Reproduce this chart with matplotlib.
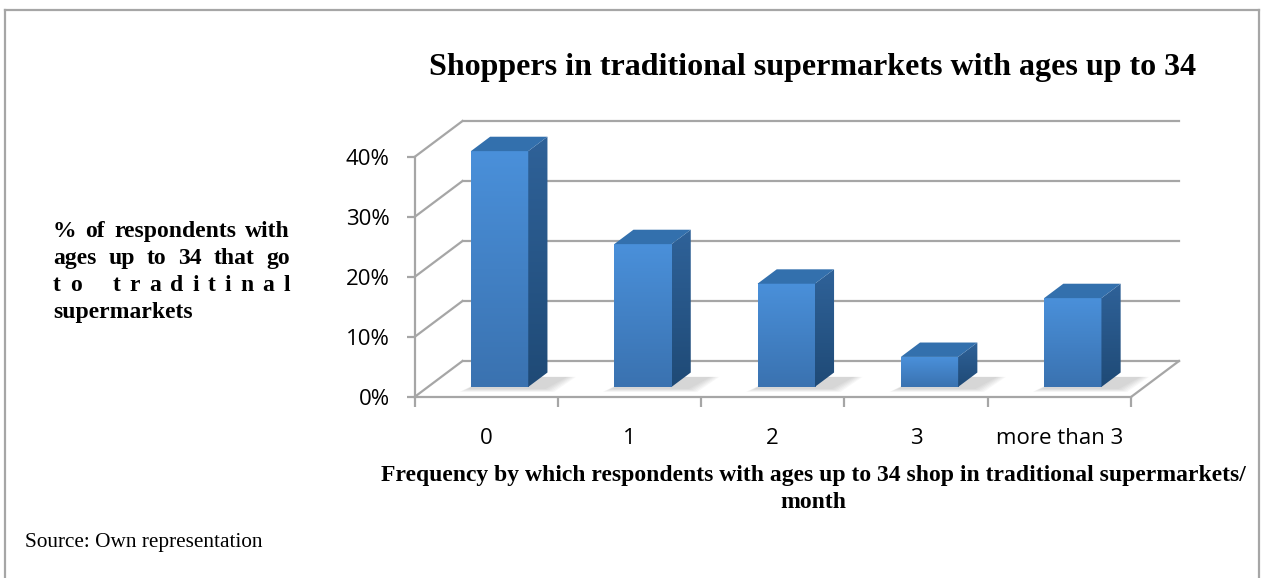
import numpy as np
import matplotlib.pyplot as plt
from matplotlib.patches import Polygon
from matplotlib.lines import Line2D
from matplotlib.colors import LinearSegmentedColormap

categories = ['0', '1', '2', '3', 'more than 3']
shares = [39.3, 23.8, 17.2, 5.0, 14.8]
y_ticks = [0, 10, 20, 30, 40]
y_tick_labels = ['0%', '10%', '20%', '30%', '40%']

title = 'Shoppers in traditional supermarkets with ages up to 34'
x_title = ['Frequency by which respondents with ages up to 34 shop in traditional supermarkets/',
           'month']
y_title = [['%', 'of', 'respondents', 'with'],
           ['ages', 'up', 'to', '34', 'that', 'go'],
           ['t', 'o', ' ', 't', 'r', 'a', 'd', 'i', 't', 'i', 'n', 'a', 'l'],
           ['supermarkets']]
source = 'Source: Own representation'

W, H = 1268, 578
DX, DY = 0.335, 6.0          # depth of the 3d box in data units
FRONT, DEPTH, WIDTH = 0.28, 0.40, 0.40
GRID = '#a6a6a6'
SERIF = 'Liberation Serif'
SANS = 'Open Sans'

fig = plt.figure(figsize=(W / 100, H / 100), dpi=100)
n = len(categories)
ax = fig.add_axes([414.5 / W, (H - 397) / H, (1179 - 414.5) / W, 276 / H])

# walls and floor
for v in y_ticks:
    ax.plot([-0.5, -0.5 + DX], [v, v + DY], color=GRID, lw=1.6, zorder=1, clip_on=False)
    ax.plot([-0.5 + DX, n - 0.5 + DX], [v + DY, v + DY], color=GRID, lw=1.6, zorder=1, clip_on=False)
ax.plot([n - 0.5, n - 0.5 + DX], [0, DY], color=GRID, lw=1.6, zorder=1, clip_on=False)

# bars
front_cmap = LinearSegmentedColormap.from_list('front', ['#3a72b0', '#4a90da'])
side_cmap = LinearSegmentedColormap.from_list('side', ['#1f4a76', '#2f6299'])
grad = np.linspace(0, 1, 256).reshape(-1, 1)
fx, fy = FRONT * DX, FRONT * DY
sx, sy = DEPTH * DX, DEPTH * DY

for i, v in enumerate(shares):
    x0 = i - WIDTH / 2 + fx
    x1 = x0 + WIDTH
    y0 = fy
    y1 = fy + v

    # soft shadow on the floor
    for k in range(6):
        e = 0.012 * k
        shadow = Polygon([(x0 - 0.02 - e, y0 - 0.35 - e * 8),
                          (x1 + 0.12 + e, y0 - 0.35 - e * 8),
                          (x1 + sx + 0.14 + e, y0 + sy * 0.7),
                          (x0 + sx, y0 + sy * 0.7)],
                         closed=True, fc='#808080', ec='none', alpha=0.06, zorder=2)
        ax.add_patch(shadow)

    ax.imshow(grad, extent=(x0, x1, y0, y1), origin='lower', cmap=front_cmap,
              aspect='auto', zorder=3, interpolation='bilinear')

    side = Polygon([(x1, y0), (x1 + sx, y0 + sy), (x1 + sx, y1 + sy), (x1, y1)],
                   closed=True, fc='none', ec='none')
    ax.add_patch(side)
    im = ax.imshow(grad, extent=(x1, x1 + sx, y0, y1 + sy), origin='lower', cmap=side_cmap,
                   aspect='auto', zorder=3, interpolation='bilinear')
    im.set_clip_path(side)

    top = Polygon([(x0, y1), (x1, y1), (x1 + sx, y1 + sy), (x0 + sx, y1 + sy)],
                  closed=True, fc='#3370ad', ec='none', zorder=3)
    ax.add_patch(top)

ax.set_xlim(-0.5, n - 0.5 + DX)
ax.set_ylim(0, y_ticks[-1] + DY)
ax.patch.set_visible(False)

# axes lines, ticks and labels
for s in ['top', 'right']:
    ax.spines[s].set_visible(False)
for s in ['left', 'bottom']:
    ax.spines[s].set_color(GRID)
    ax.spines[s].set_linewidth(1.6)
    ax.spines[s].set_zorder(1)
ax.spines['left'].set_bounds(0, y_ticks[-1])
ax.spines['bottom'].set_bounds(-0.5, n - 0.5)

ax.set_yticks(y_ticks)
ax.set_yticklabels(y_tick_labels, fontfamily=SANS, fontsize=16)
ax.tick_params(axis='y', direction='out', length=6, width=1.6, color=GRID, pad=12)

ax.set_xticks(np.arange(n + 1) - 0.5)
ax.set_xticklabels([])
ax.tick_params(axis='x', which='major', direction='out', length=7, width=1.6, color=GRID)
ax.set_xticks(np.arange(n), minor=True)
ax.set_xticklabels(categories, minor=True, fontfamily=SANS, fontsize=16)
ax.tick_params(axis='x', which='minor', length=0, pad=22)


def fx_(px):
    return px / W


def fy_(py):
    return 1 - py / H


# title and axis titles
fig.text(fx_(813), fy_(75), title, family=SERIF, weight='bold', fontsize=23,
         ha='center', va='baseline')
fig.text(fx_(813), fy_(481), x_title[0], family=SERIF, weight='bold', fontsize=17,
         ha='center', va='baseline')
fig.text(fx_(813), fy_(508), x_title[1], family=SERIF, weight='bold', fontsize=17,
         ha='center', va='baseline')
fig.text(fx_(25), fy_(547), source, family=SERIF, fontsize=15.3, ha='left', va='baseline')

# justified y title block
renderer = fig.canvas.get_renderer()
left_px, right_px = 53, 290
baselines = [237, 264, 291, 318]
for tokens, base in zip(y_title, baselines):
    words = [t for t in tokens if t != ' ']
    texts = [fig.text(fx_(left_px), fy_(base), w, family=SERIF, weight='bold', fontsize=17,
                      ha='left', va='baseline') for w in words]
    if len(words) == 1:
        continue
    widths = [t.get_window_extent(renderer).width for t in texts]
    # gap weights: a ' ' marker between letters makes a wider word gap
    weights = []
    wide = False
    for k, t in enumerate(tokens):
        if t == ' ':
            wide = True
            continue
        if k > 0:
            weights.append(3.5 if wide else 1.0)
            wide = False
    gap = (right_px - left_px - sum(widths)) / sum(weights)
    x = left_px
    for k, t in enumerate(texts):
        t.set_x(fx_(x))
        if k < len(weights):
            x += widths[k] + gap * weights[k]

# outer frame
for xs, ys in [([5, 5], [10, H]), ([5, 1259], [10, 10]), ([1259, 1259], [10, H])]:
    fig.add_artist(Line2D([fx_(p) for p in xs], [fy_(p) for p in ys], color=GRID, lw=1.6))

fig.savefig('out.png', dpi=100)
